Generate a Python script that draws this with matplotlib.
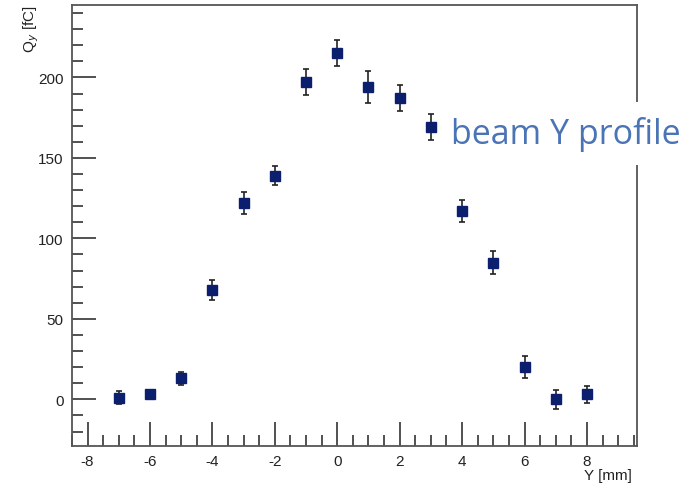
import matplotlib.pyplot as plt
import numpy as np
from matplotlib.ticker import MultipleLocator

plt.rcParams['axes.unicode_minus'] = False

# beam Y profile data
y_pos = [-7, -6, -5, -4, -3, -2, -1, 0, 1, 2, 3, 4, 5, 6, 7, 8]
charge = [1, 3, 13, 68, 122, 139, 197, 215, 194, 187, 169, 117, 85, 20, 0, 3]
charge_err = [4, 3, 4, 6, 7, 6, 8, 8, 10, 8, 8, 7, 7, 7, 6, 5]

fig = plt.figure(figsize=(6.9, 4.89), dpi=100)
ax = fig.add_axes([0.1043, 0.0859, 0.8187, 0.9018])

ax.errorbar(y_pos, charge, yerr=charge_err, fmt='s', color='#0b1f6e',
            markersize=6.5, ecolor='#222222', elinewidth=1.2, capsize=2.5,
            capthick=1.2, zorder=3)

ax.set_xlim(-8.5, 9.6)
ax.set_ylim(-29, 245)

ax.xaxis.set_major_locator(MultipleLocator(2))
ax.xaxis.set_minor_locator(MultipleLocator(0.5))
ax.yaxis.set_major_locator(MultipleLocator(50))
ax.yaxis.set_minor_locator(MultipleLocator(10))

ax.tick_params(which='both', direction='in', top=False, right=False,
               color='#333333', width=1.2, labelsize=11, labelcolor='#222222')
ax.tick_params(which='major', length=17, pad=6)
ax.tick_params(which='minor', length=8)

for s in ax.spines.values():
    s.set_color('#555555')
    s.set_linewidth(1.3)

for lab in ax.get_xticklabels() + ax.get_yticklabels():
    lab.set_family(['Liberation Sans', 'DejaVu Sans'])

fig.text(0.045, 0.99, r'Q$_y$ [fC]', rotation=90, ha='center', va='top',
         fontsize=11, family=['Liberation Sans', 'DejaVu Sans'], color='#222222')
fig.text(0.916, 0.040, 'Y [mm]', ha='right', va='top', fontsize=11,
         family=['Liberation Sans', 'DejaVu Sans'], color='#222222')

# overlay label covering part of the right frame
fig.text(0.654, 0.725, 'beam Y profile', ha='left', va='center', fontsize=24.5,
         family=['Open Sans', 'DejaVu Sans'], color='#4a74b6',
         bbox=dict(boxstyle='square,pad=0.4', facecolor='white', edgecolor='none'),
         zorder=10)

fig.savefig('out.png', dpi=100, facecolor='white')
